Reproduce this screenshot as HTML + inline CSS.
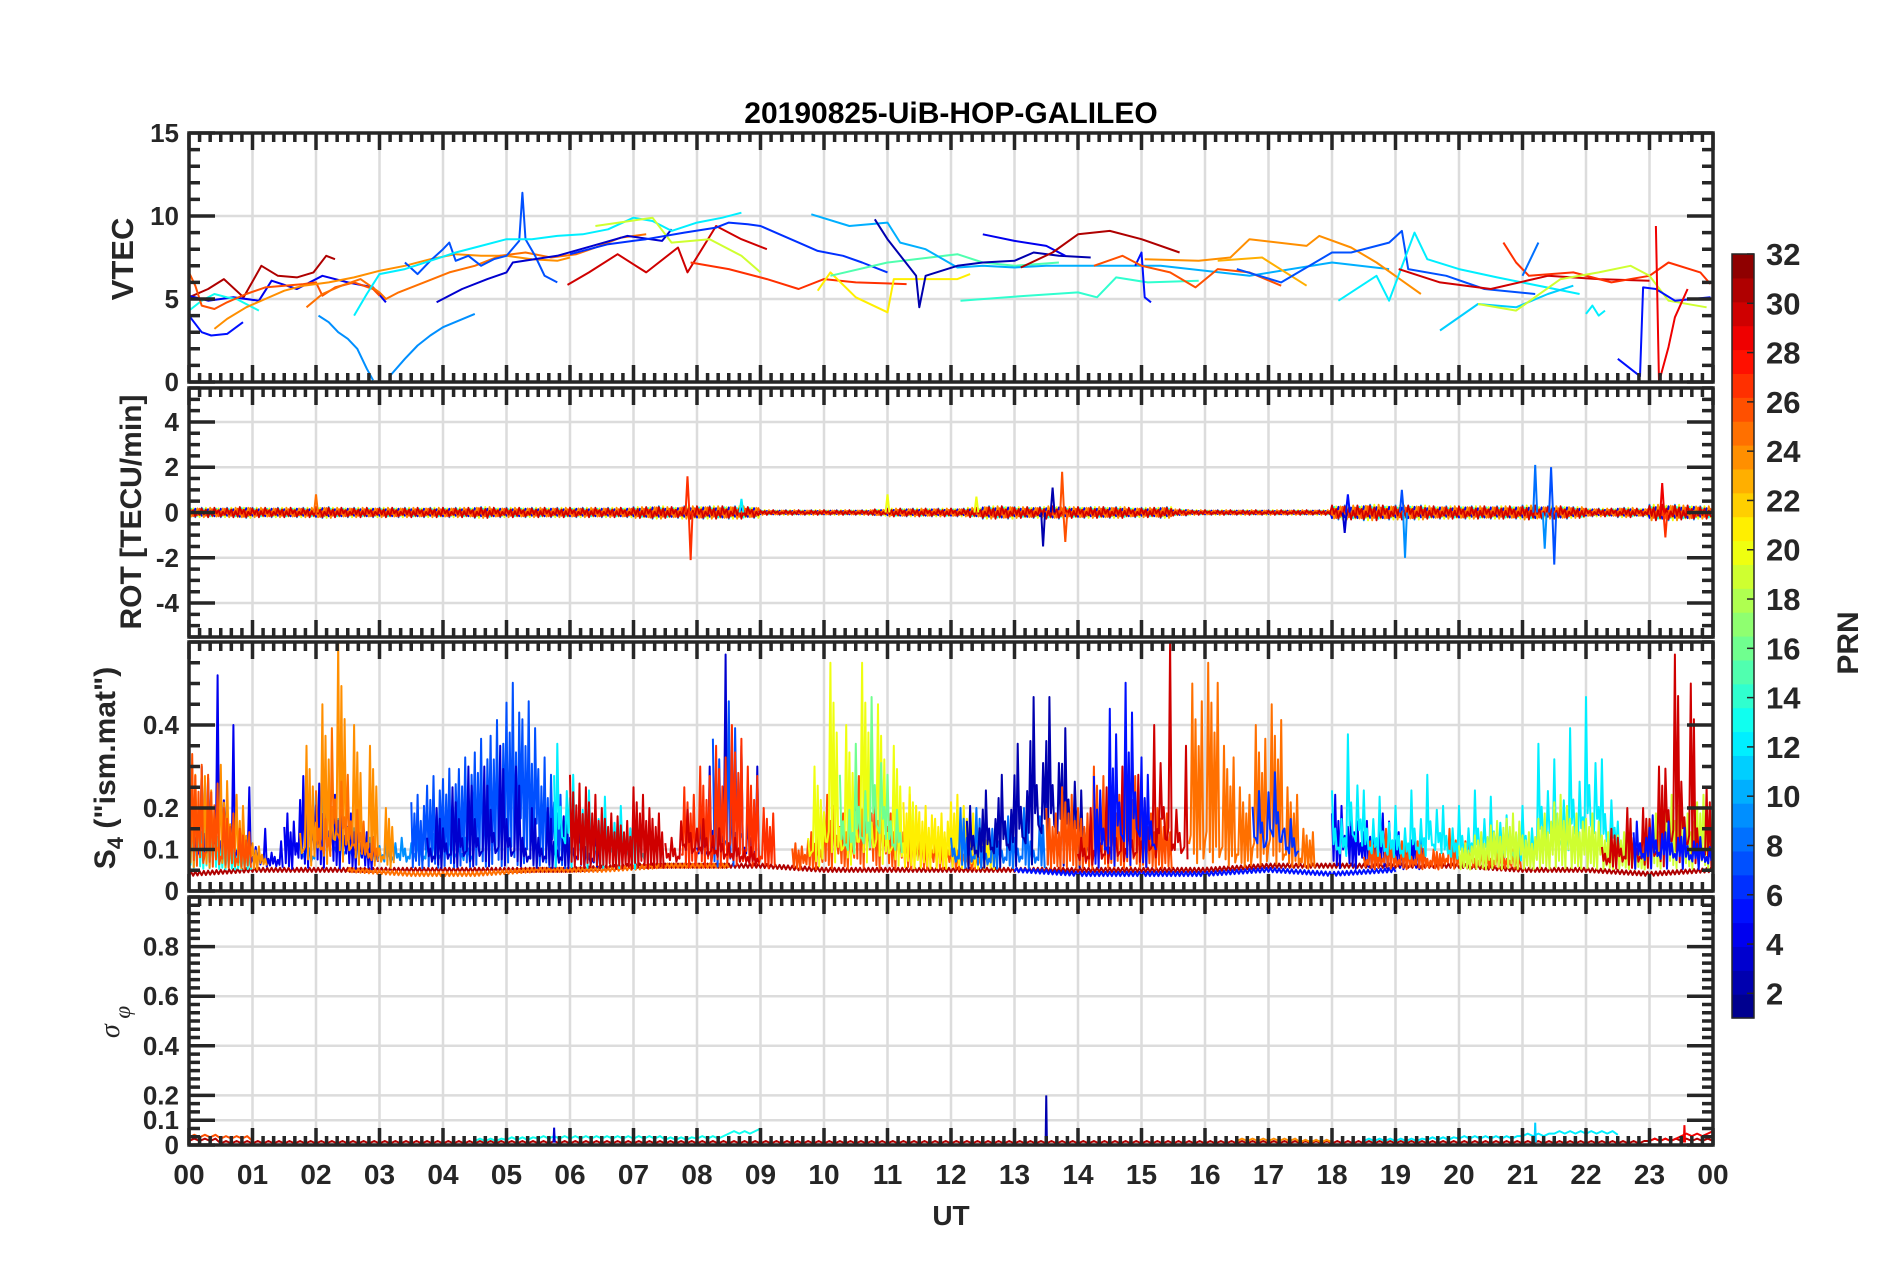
<!DOCTYPE html>
<html><head><meta charset="utf-8"><style>
html,body{margin:0;padding:0;background:#fff;}
svg{display:block;font-family:"Liberation Sans",Arial,sans-serif;}
</style></head><body>
<svg id="fig" width="1902" height="1272" viewBox="0 0 1902 1272" xmlns="http://www.w3.org/2000/svg">
<text x="951" y="123" text-anchor="middle" font-size="30" font-weight="bold" fill="#000">20190825-UiB-HOP-GALILEO</text>
<text x="951" y="1225" text-anchor="middle" font-size="28" font-weight="bold" fill="#262626">UT</text>
<text transform="translate(133,259) rotate(-90)" text-anchor="middle" font-size="31" font-weight="bold" fill="#262626">VTEC</text>
<text transform="translate(141,512) rotate(-90)" text-anchor="middle" font-size="30" font-weight="bold" fill="#262626">ROT [TECU/min]</text>
<text transform="translate(115,768) rotate(-90)" text-anchor="middle" font-size="30" font-weight="bold" fill="#262626">S<tspan font-size="22" dy="8">4</tspan><tspan dy="-8"> ("ism.mat")</tspan></text>
<text transform="translate(119,1022) rotate(-90)" text-anchor="middle" font-size="28" font-style="italic" fill="#262626" font-family="Liberation Serif, serif">σ<tspan font-size="23" dy="11"> φ</tspan></text>
<text transform="translate(1858,643) rotate(-90)" text-anchor="middle" font-size="30" font-weight="bold" fill="#262626">PRN</text>
<g id="layer"></g>
</svg>
<script>
// ---------- data ----------
const hourTicks = ["00","01","02","03","04","05","06","07","08","09","10","11","12","13","14","15","16","17","18","19","20","21","22","23","00"];
const vtecTicks = [0,5,10,15];
const rotTicks = [-4,-2,0,2,4];
const s4Ticks = [0,0.1,0.2,0.4];
const sigTicks = [0,0.1,0.2,0.4,0.6,0.8];
const cbTicks = [2,4,6,8,10,12,14,16,18,20,22,24,26,28,30,32];

const vtecTracks = [
 {prn:31,t:[0,0.3,0.55,0.86,1.14,1.4,1.7,1.96,2.16,2.3],v:[5.1,5.6,6.2,5.1,7.0,6.4,6.3,6.6,7.6,7.4]},
 {prn:4,t:[0,0.3,0.7,1.1,1.3,1.7,2.1,2.5,2.9,3.1],v:[5.2,4.9,5.1,4.9,6.1,5.6,6.4,6.0,5.7,4.8]},
 {prn:5,t:[0,0.2,0.35,0.6,0.85],v:[4.0,3.0,2.8,2.9,3.6]},
 {prn:13,t:[0,0.2,0.4,0.6,0.75,1.1],v:[4.3,4.9,5.3,5.1,5.0,4.3]},
 {prn:26,t:[0,0.1,0.2,0.4,0.6,0.9,1.2,1.5,1.8,2.0,2.1,2.3,2.6,2.9,3.0],v:[6.6,5.8,4.6,4.4,4.8,5.3,5.7,5.8,5.9,6.0,5.2,5.7,6.0,5.6,5.2]},
 {prn:24,t:[0.4,0.6,0.9,1.2,1.5,1.8,2.2,2.6,3.0,3.4,3.8,4.2,4.6,5.0,5.4,5.8,6.0],v:[3.2,3.8,4.5,5.0,5.5,5.8,6.0,6.3,6.7,7.0,7.4,7.7,7.6,7.6,7.4,7.3,7.5]},
 {prn:25,t:[1.85,2.1,2.4,2.7,3.0,3.1,3.3,3.7,4.1,4.5,4.9,5.3,5.7,6.1,6.4,6.8,7.2],v:[4.5,5.3,5.8,6.2,5.4,5.0,5.4,6.0,6.6,7.0,7.6,7.8,7.5,7.7,8.1,8.7,8.9]},
 {prn:9,t:[2.04,2.2,2.35,2.5,2.65,2.8,2.9],v:[4.0,3.6,3.0,2.6,2.0,0.8,0.1]},
 {prn:9,t:[3.15,3.4,3.6,3.8,4.0,4.25,4.5],v:[0.3,1.4,2.2,2.8,3.3,3.7,4.1]},
 {prn:7,t:[3.4,3.6,3.8,4.0,4.1,4.2,4.4,4.6,4.8,5.0,5.2,5.25,5.3,5.45,5.6,5.8],v:[7.2,6.5,7.3,8.0,8.4,7.3,7.6,7.0,7.4,7.6,8.5,11.4,8.6,7.6,6.4,6.0]},
 {prn:3,t:[3.9,4.3,4.7,5.0,5.1,5.8,6.35,6.9,7.45,7.6],v:[4.8,5.6,6.2,6.6,7.2,7.6,8.2,8.8,8.5,9.2]},
 {prn:12,t:[2.6,2.8,3.0,3.4,3.8,4.2,4.6,5.0,5.4,5.8,6.2,6.6,7.0,7.3,7.6,8.0,8.4,8.7],v:[4.0,5.3,6.5,6.8,7.3,7.8,8.2,8.6,8.6,8.8,8.9,9.2,9.9,9.7,9.1,9.6,9.9,10.2]},
 {prn:30,t:[5.96,6.3,6.75,7.2,7.7,7.85,8.3,8.7,9.1],v:[5.85,6.6,7.7,6.6,8.1,6.6,9.4,8.6,8.0]},
 {prn:19,t:[6.4,7.3,7.6,8.2,8.7,9.0],v:[9.4,9.9,8.4,8.6,7.6,6.6]},
 {prn:27,t:[7.9,8.5,9.1,9.6,10.0,10.5,11.3],v:[7.2,6.8,6.2,5.6,6.2,6.0,5.9]},
 {prn:6,t:[6.0,6.6,7.2,7.8,8.3,8.5,8.8,9.0,9.3,9.6,9.9,10.3,10.6,11.0],v:[7.7,8.3,8.6,9.0,9.3,9.6,9.5,9.4,8.9,8.4,7.9,7.6,7.2,6.6]},
 {prn:21,t:[9.9,10.1,10.5,11.0,11.1,12.1,12.3],v:[5.5,6.6,5.1,4.2,6.2,6.2,6.5]},
 {prn:15,t:[10.1,11.0,12.1,12.5,13.0,13.7],v:[6.4,7.2,7.7,7.2,7.0,7.2]},
 {prn:10,t:[9.8,10.4,11.0,11.2,11.6,12.1,12.5,13.0,13.5,15.3,16.7,18.0,18.9],v:[10.1,9.4,9.6,8.4,8.0,6.9,7.0,6.9,7.0,7.0,6.4,7.2,6.8]},
 {prn:2,t:[10.8,11.0,11.45,11.5,11.6,12.1,12.5,13.0,13.3,13.7,14.2],v:[9.8,8.6,6.4,4.5,6.4,7.0,7.2,7.3,7.8,7.6,7.5]},
 {prn:4,t:[12.5,13.0,13.5,13.8],v:[8.9,8.5,8.2,7.6]},
 {prn:31,t:[13.1,13.6,14.0,14.5,15.0,15.6],v:[6.9,7.8,8.9,9.1,8.6,7.8]},
 {prn:14,t:[12.15,13.2,14.0,14.3,14.6,15.1,15.9],v:[4.9,5.2,5.4,5.1,6.3,6.0,6.1]},
 {prn:5,t:[14.9,15.0,15.05,15.15],v:[7.0,7.8,5.1,4.8]},
 {prn:26,t:[14.25,14.7,15.0,15.45,15.85,16.2,16.7,17.2],v:[7.0,7.6,7.0,6.6,5.7,6.8,6.6,5.8]},
 {prn:24,t:[15.05,15.9,16.4,16.7,17.6,17.8,18.3,18.7,19.4],v:[7.4,7.3,7.5,8.6,8.2,8.8,8.1,7.2,5.3]},
 {prn:23,t:[16.2,16.9,17.6],v:[7.3,7.5,5.8]},
 {prn:7,t:[16.5,17.2,18.0,18.3,18.9,19.1,19.2,19.8,20.4,21.2],v:[6.8,6.0,7.8,7.8,8.4,9.1,6.8,6.4,5.6,5.3]},
 {prn:12,t:[18.1,18.7,18.9,19.3,19.5,20.0,20.6,21.9],v:[4.9,6.4,4.9,9.0,7.4,6.8,6.3,5.3]},
 {prn:30,t:[19.05,19.7,20.5,21.4,22.2,23.0],v:[6.8,6.0,5.6,6.4,6.2,6.1]},
 {prn:27,t:[20.7,20.9,21.1,21.8,22.4,23.0,23.3,23.8,23.96],v:[8.4,7.2,6.4,6.6,6.0,6.4,7.2,6.6,5.9]},
 {prn:8,t:[21.0,21.25],v:[6.4,8.4]},
 {prn:11,t:[19.7,20.3,20.9,21.4,21.8],v:[3.1,4.7,4.5,5.3,5.8]},
 {prn:12,t:[22.0,22.1,22.2,22.3],v:[4.1,4.6,4.0,4.3]},
 {prn:19,t:[20.3,20.9,21.6,22.2,22.7,23.0,23.3,23.9],v:[4.7,4.3,6.2,6.6,7.0,6.4,4.9,4.5]},
 {prn:5,t:[22.5,22.85,22.9,23.1,23.4,23.96],v:[1.4,0.35,5.7,5.6,4.9,5.1]},
 {prn:29,t:[23.1,23.15,23.3,23.4,23.6],v:[9.4,0.0,2.1,3.9,5.6]}
];

// ROT: envelope amplitude per 15 min, plus isolated spikes [hour,value,prn]
const rotAmp = [0.3,0.3,0.3,0.35,0.3,0.3,0.3,0.3, 0.35,0.3,0.3,0.3,0.3,0.3,0.3,0.3, 0.3,0.3,0.35,0.3,0.3,0.3,0.3,0.3,
 0.3,0.3,0.3,0.3,0.35,0.4,0.35,0.4, 0.4,0.4,0.4,0.35,0.15,0.15,0.15,0.15, 0.15,0.15,0.15,0.2,0.25,0.25,0.25,0.25,
 0.25,0.3,0.4,0.4,0.35,0.35,0.4,0.35, 0.35,0.35,0.35,0.3,0.3,0.35,0.2,0.15, 0.15,0.15,0.15,0.15,0.15,0.15,0.15,0.15,
 0.45,0.45,0.5,0.45,0.45,0.45,0.4,0.4, 0.4,0.4,0.4,0.4,0.45,0.4,0.4,0.35, 0.25,0.25,0.3,0.25,0.5,0.5,0.45,0.4];
const rotSpikes = [[7.85,1.6,27],[7.9,-2.1,27],[13.75,1.8,26],[13.8,-1.3,26],[13.45,-1.5,2],[18.2,-0.9,3],[18.25,0.8,5],[19.1,1.0,7],[19.15,-2.0,9],[21.2,2.1,8],[21.5,-2.3,7],[21.45,2.0,7],[21.35,-1.6,9],[23.2,1.3,29],[23.25,-1.1,27],[11.0,0.8,20],[12.4,0.7,20],[8.7,0.6,12],[2.0,0.8,25],[13.6,1.1,2]];
const rotBandPrns = [9,13,20,4,24,26,30];

// S4: spiky tracks (peak per 15 min)
const s4Tracks = [
 {prn:13,start:0,peaks:[0.2,0.18,0.12,0.1]},
 {prn:4,start:0,peaks:[0.3,0.52,0.4,0.25,0.15,0.12]},
 {prn:24,start:0,peaks:[0.35,0.3,0.33,0.25,0.12]},
 {prn:26,start:0,peaks:[0.33,0.28,0.2,0.15]},
 {prn:9,start:1.75,peaks:[0.2,0.55,0.3,0.25,0.2,0.18,0.2,0.2,0.22,0.25,0.2]},
 {prn:4,start:1.5,peaks:[0.2,0.3,0.28,0.25,0.2,0.15]},
 {prn:24,start:1.75,peaks:[0.35,0.45,0.6,0.4,0.35,0.2]},
 {prn:25,start:2.0,peaks:[0.3,0.5,0.35,0.2]},
 {prn:7,start:3.5,peaks:[0.25,0.3,0.32,0.35,0.4,0.45,0.55,0.5,0.35,0.25]},
 {prn:3,start:3.75,peaks:[0.2,0.25,0.3,0.3,0.35,0.3,0.2,0.2,0.18,0.2,0.15]},
 {prn:12,start:5.75,peaks:[0.45,0.35,0.3,0.28,0.25,0.2]},
 {prn:30,start:6.0,peaks:[0.28,0.25,0.2,0.18,0.25,0.2]},
 {prn:3,start:8.0,peaks:[0.3,0.57,0.35,0.3]},
 {prn:7,start:8.25,peaks:[0.4,0.5]},
 {prn:27,start:7.75,peaks:[0.25,0.3,0.35,0.4,0.3,0.2]},
 {prn:30,start:7.5,peaks:[0.2,0.35,0.3,0.25,0.2,0.15]},
 {prn:26,start:9.5,peaks:[0.12,0.15,0.25,0.2,0.3,0.25,0.2,0.18,0.15,0.15,0.12,0.1]},
 {prn:20,start:9.75,peaks:[0.3,0.55,0.4,0.55,0.45,0.35,0.25]},
 {prn:16,start:10.25,peaks:[0.35,0.45,0.6,0.35]},
 {prn:21,start:11.25,peaks:[0.25,0.22,0.2,0.25,0.2,0.15]},
 {prn:8,start:12.0,peaks:[0.2,0.2,0.15,0.18,0.2,0.18]},
 {prn:2,start:12.25,peaks:[0.25,0.3,0.35,0.45,0.6,0.6,0.5,0.3]},
 {prn:26,start:13.5,peaks:[0.2,0.25,0.2,0.3,0.25,0.3,0.2,0.2]},
 {prn:30,start:14.0,peaks:[0.2,0.25,0.3,0.28,0.4,0.6,0.35]},
 {prn:5,start:14.25,peaks:[0.3,0.48,0.55,0.35]},
 {prn:25,start:15.75,peaks:[0.5,0.55,0.35,0.25,0.4,0.45,0.25,0.15]},
 {prn:6,start:16.75,peaks:[0.45,0.55,0.3]},
 {prn:4,start:18.0,peaks:[0.25,0.2,0.18,0.2,0.15,0.15]},
 {prn:26,start:18.5,peaks:[0.12,0.15,0.12,0.12,0.1,0.15,0.12,0.1,0.1,0.1]},
 {prn:12,start:18.0,peaks:[0.3,0.48,0.3,0.28,0.25,0.3,0.35,0.25,0.25,0.3,0.28,0.22,0.25,0.45,0.4,0.5,0.6,0.4,0.2]},
 {prn:19,start:20.0,peaks:[0.12,0.15,0.18,0.2,0.15,0.2,0.25,0.2,0.2,0.15,0.15,0.12,0.2,0.25,0.2,0.25]},
 {prn:30,start:22.25,peaks:[0.15,0.2,0.2,0.3,0.57,0.5,0.25]},
 {prn:5,start:22.75,peaks:[0.2,0.22,0.2,0.18,0.15]}
];
// S4 low baseline traces: hourly values
const s4Base31 = [0.04,0.05,0.05,0.05,0.05,0.05,0.05,0.06,0.06,0.06,0.05,0.05,0.05,0.05,0.05,0.05,0.05,0.06,0.06,0.06,0.06,0.05,0.05,0.04,0.05];
const s4Base25 = {start:2.5,vals:[0.05,0.04,0.04,0.05,0.05,0.06,0.06]};
const s4Base5 = {start:13,vals:[0.05,0.04,0.04,0.04,0.05,0.04,0.05]};

// sigma phi tracks (step 0.5 h)
const sigTracks = [
 {prn:31,start:0,vals:[0.02,0.01,0.01,0.01,0.01,0.01,0.01,0.01,0.01,0.01,0.01,0.01,0.01,0.01,0.01,0.01,0.01,0.01,0.01,0.01,0.01,0.01,0.01,0.01,0.01,0.01,0.01,0.01,0.01,0.01,0.01,0.01,0.01,0.01,0.01,0.01,0.01,0.01,0.01,0.01,0.01,0.01,0.01,0.01,0.01,0.01,0.02,0.02,0.02]},
 {prn:13,start:4.5,vals:[0.02,0.025,0.03,0.03,0.03,0.03,0.025,0.03,0.05,0.07]},
 {prn:12,start:18.5,vals:[0.02,0.02,0.025,0.03,0.03,0.04,0.05,0.05,0.045]},
 {prn:26,start:0,vals:[0.035,0.03,0.02]},
 {prn:24,start:16.5,vals:[0.02,0.02,0.015,0.015]},
 {prn:29,start:23,vals:[0.02,0.04,0.06]}
];
const sigSpikes = [[13.5,0.2,2],[21.2,0.09,11],[5.75,0.07,3],[23.55,0.08,29]];

// ---------- layout ----------
const xL=189, xR=1713;
const panels=[
 {name:'vtec',top:133,bot:382,ymin:0,ymax:15,ticks:vtecTicks,minor:1,fmt:v=>String(v)},
 {name:'rot',top:388,bot:637,ymin:-5.5,ymax:5.5,ticks:rotTicks,minor:0.5,fmt:v=>String(v)},
 {name:'s4',top:642,bot:891,ymin:0,ymax:0.6,ticks:s4Ticks,minor:0.05,fmt:v=>String(v)},
 {name:'sigma-phi',top:897,bot:1145,ymin:0,ymax:1,ticks:sigTicks,minor:1/30,fmt:v=>String(v)}
];
const xs=h=>xL+(h/24)*(xR-xL);
const ys=(p,v)=>p.bot-(v-p.ymin)/(p.ymax-p.ymin)*(p.bot-p.top);
const NS='http://www.w3.org/2000/svg';
const layer=document.getElementById('layer');
function mk(tag,attrs,parent){const e=document.createElementNS(NS,tag);for(const k in attrs)e.setAttribute(k,attrs[k]);(parent||layer).appendChild(e);return e;}
function jet(k){const x=(k+0.5)/32;const c=t=>Math.round(255*Math.max(0,Math.min(1,t)));
 return `rgb(${c(1.5-Math.abs(4*x-3))},${c(1.5-Math.abs(4*x-2))},${c(1.5-Math.abs(4*x-1))})`;}
const prnColor=p=>jet(Math.max(0,Math.min(31,p-1)));
const AX='#262626';

// grids
panels.forEach(p=>{
 const g=mk('g',{});
 
 
 for(let h=1;h<24;h++){mk('line',{x1:xs(h),x2:xs(h),y1:p.top,y2:p.bot,stroke:'#dcdcdc','stroke-width':2.5},g);}
 p.ticks.forEach(v=>{if(v>p.ymin&&v<p.ymax)mk('line',{x1:xL,x2:xR,y1:ys(p,v),y2:ys(p,v),stroke:'#dcdcdc','stroke-width':2.5},g);});
 p.g=mk('g',{});
 
 
 const cp=mk('clipPath',{id:'clip-'+p.name});
 mk('rect',{x:xL,y:p.top,width:xR-xL,height:p.bot-p.top},cp);
 p.g.setAttribute('clip-path','url(#clip-'+p.name+')');
});
function poly(p,pts,prn,w,name){
 const el=mk('polyline',{points:pts.map(q=>q[0].toFixed(1)+','+q[1].toFixed(1)).join(' '),fill:'none',stroke:prnColor(prn),'stroke-width':w||2,'stroke-linejoin':'round'},p.g);
 
 
 return el;
}

// VTEC
const P1=panels[0];
vtecTracks.forEach(tr=>{
 poly(P1,tr.t.map((t,i)=>[xs(t),ys(P1,tr.v[i])]),tr.prn,2,'vtec-line-prn'+tr.prn);
});

// ROT
const P2=panels[1];
const rotPat=[0.6,-0.3,0.45,-0.7,0.2,-0.5,0.7,-0.15,0.35,-0.6,0.1,-0.35];
rotBandPrns.forEach((prn,bi)=>{
 const pts=[];
 for(let i=0;i<720;i++){const h=i/30;const a=rotAmp[Math.min(rotAmp.length-1,Math.floor(h*4))];
  pts.push([xs(h),ys(P2,a*rotPat[(i+bi*5)%rotPat.length]*(bi%2?0.8:1))]);}
 poly(P2,pts,prn,1.8,'rot-line-prn'+prn);
});
rotSpikes.forEach(s=>{
 const el=mk('polyline',{points:`${xs(s[0]-0.03)},${ys(P2,0)} ${xs(s[0])},${ys(P2,s[1])} ${xs(s[0]+0.03)},${ys(P2,0)}`,fill:'none',stroke:prnColor(s[2]),'stroke-width':2},P2.g);
 
 
});

// S4
const P3=panels[2];
const s4Pat=[1,0.35,0.8,0.15,0.65,0.45,0.9,0.25,0.55,0.1,0.75];
function baseLine(prn,start,step,vals,name){
 const pts=[];const n=(vals.length-1)*step*30;
 for(let i=0;i<=n;i++){const h=start+i/30;const k=Math.min(vals.length-2,Math.floor((h-start)/step));const f=(h-start)/step-k;
  const v=vals[k]*(1-f)+vals[k+1]*f;pts.push([xs(h),ys(P3,v+(i%2?0.006:-0.004))]);}
 poly(P3,pts,prn,2,name);
}
baseLine(31,0,1,s4Base31,'s4-baseline-prn31');
baseLine(25,s4Base25.start,1,s4Base25.vals,'s4-baseline-prn25');
baseLine(5,s4Base5.start,1,s4Base5.vals,'s4-baseline-prn5');
s4Tracks.forEach((tr,ti)=>{
 const pts=[];const base=0.05;const NSUB=10;
 tr.peaks.forEach((pk,i)=>{
  for(let j=0;j<NSUB;j++){const h=tr.start+i*0.25+j*0.25/NSUB;
   const m=s4Pat[(j+ti*3)%s4Pat.length];
   const v=(j%2===0)?0.07+(pk-0.07)*m:base+(pk-base)*m*0.25;
   pts.push([xs(h),ys(P3,v)]);}
 });
 poly(P3,pts,tr.prn,2,'s4-line-prn'+tr.prn);
});

// sigma phi
const P4=panels[3];
sigTracks.forEach(tr=>{
 const pts=[];
 tr.vals.forEach((v,i)=>{for(let j=0;j<6;j++){const h=tr.start+i*0.5+j/12;if(i<tr.vals.length-1||j===0)pts.push([xs(h),ys(P4,Math.max(0,v+(j%2?0.006:-0.004)))]);}});
 poly(P4,pts,tr.prn,2,'sigma-phi-line-prn'+tr.prn);
});
sigSpikes.forEach(s=>{
 const el=mk('polyline',{points:`${xs(s[0]-0.01)},${ys(P4,0.01)} ${xs(s[0])},${ys(P4,s[1])} ${xs(s[0]+0.01)},${ys(P4,0.01)}`,fill:'none',stroke:prnColor(s[2]),'stroke-width':2},P4.g);
 
 
});

// axes boxes, ticks, labels
panels.forEach((p,pi)=>{
 const g=mk('g',{});
 
 
 let d='';
 for(let i=0;i<=144;i++){const x=xs(i/6);const L=(i%6===0)?17:9;d+=`M${x},${p.top}v${L}M${x},${p.bot}v${-L}`;}
 const nMin=Math.round((p.ymax-p.ymin)/p.minor);
 for(let i=0;i<=nMin;i++){const v=p.ymin+i*p.minor;const isMaj=p.ticks.some(t=>Math.abs(t-v)<1e-6);const y=ys(p,v);const L=isMaj?26:11;
  d+=`M${xL},${y}h${L}M${xR},${y}h${-L}`;}
 mk('path',{d:d,stroke:AX,'stroke-width':3.5,fill:'none'},g);
 mk('rect',{x:xL,y:p.top,width:xR-xL,height:p.bot-p.top,fill:'none',stroke:AX,'stroke-width':3.5},g);
 p.ticks.forEach(v=>{
  const t=mk('text',{x:179,y:ys(p,v)+9,'text-anchor':'end','font-size':26,'font-weight':'bold',fill:AX},g);
  t.textContent=p.fmt(v);
  
  
 });
});
const xg=mk('g',{});


hourTicks.forEach((lab,i)=>{
 const t=mk('text',{x:xs(i),y:1194,'text-anchor':'middle','font-size':28,'font-weight':'bold',fill:AX},xg);
 t.textContent=lab;
 
 
});
xg.setAttribute('transform','translate(0,-10)');

// colorbar
const cb=mk('g',{});


const cbT=254,cbB=1018,cbX=1732,cbW=22;
const cbY=v=>cbB-(v-1)/31*(cbB-cbT);
for(let k=0;k<32;k++){const y0=cbB-(k+1)*(cbB-cbT)/32;
 mk('rect',{x:cbX,y:y0,width:cbW,height:(cbB-cbT)/32+0.6,fill:jet(k),stroke:'none'},cb);}
mk('rect',{x:cbX,y:cbT,width:cbW,height:cbB-cbT,fill:'none',stroke:AX,'stroke-width':1.5},cb);
cbTicks.forEach(v=>{
 mk('line',{x1:cbX+cbW-7,x2:cbX+cbW,y1:cbY(v),y2:cbY(v),stroke:AX,'stroke-width':1.5},cb);
 const t=mk('text',{x:1766,y:cbY(v)+11,'font-size':31,'font-weight':'bold',fill:AX},cb);
 t.textContent=String(v);
 
 
});
</script>
</body></html>
